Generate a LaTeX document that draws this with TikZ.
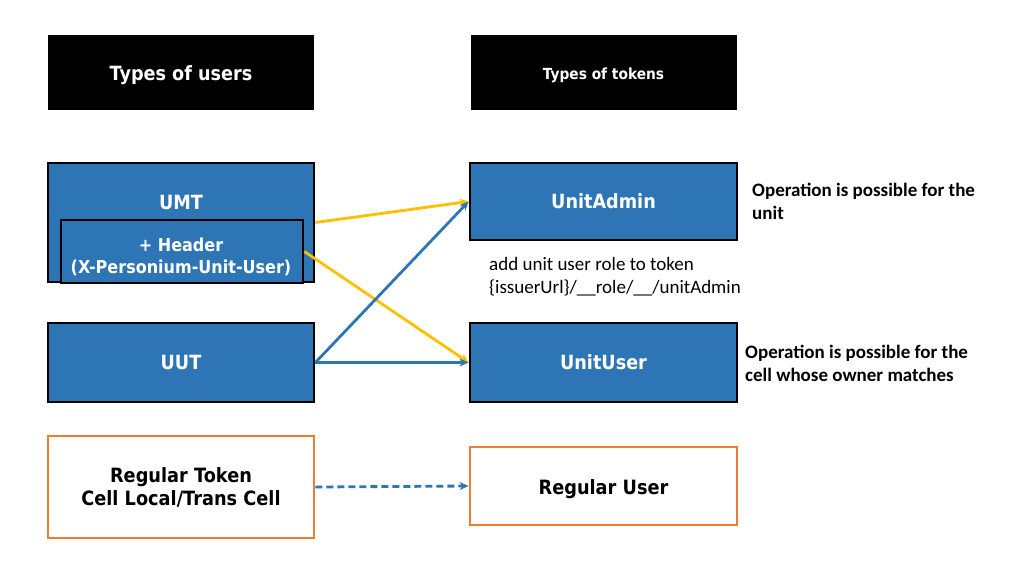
\documentclass[tikz,border=0pt]{standalone}
\usepackage{fontspec}
\setmainfont{DejaVu Sans}[FakeStretch=0.9]
\newfontfamily\carlito{Carlito}
\usetikzlibrary{arrows.meta}
\definecolor{boxblue}{HTML}{2E75B6}
\definecolor{arrowyellow}{HTML}{FFC000}
\definecolor{boxorange}{HTML}{ED7D31}
\begin{document}
\begin{tikzpicture}[x=1pt,y=-1pt,
  hdr/.style={draw=none,fill=black,text=white,minimum width=266pt,minimum height=75pt,inner sep=0pt},
  bluebox/.style={draw=black,line width=2.8pt,fill=boxblue,inner sep=0pt},
  orangebox/.style={draw=boxorange,line width=2.8pt,fill=white,text=black,inner sep=0pt,align=center},
  wtxt/.style={text=white,font=\bfseries\fontsize{19.6}{22}\selectfont,align=center},
  note/.style={font=\carlito\bfseries\fontsize{19}{23}\selectfont,align=left,anchor=north west,inner sep=0pt},
  yarrow/.style={draw=arrowyellow,line width=2.8pt,-{Stealth[length=9pt,width=8pt]}},
  barrow/.style={draw=boxblue,line width=2.8pt,-{Stealth[length=9pt,width=8pt]}}
]
\useasboundingbox (0,0) rectangle (1024,576);
\fill[white] (0,0) rectangle (1024,576);
% headers
\node[hdr,font=\bfseries\fontsize{19.6}{20}\selectfont,text depth=0pt] (husers) at (181,72.5) {\raisebox{-2pt}{Types of users}};
\node[hdr,font=\bfseries\fontsize{15.3}{16}\selectfont,text depth=0pt] (htokens) at (603.5,72.5) {\raisebox{-2pt}{Types of tokens}};
% left boxes
\node[bluebox,minimum width=266pt,minimum height=119pt] (umt) at (181,222.5) {};
\node[wtxt] (umttxt) at (181,202) {UMT};
\node[bluebox,minimum width=242pt,minimum height=63pt] (hdrbox) at (182,251.5) {};
\node[wtxt,font=\bfseries\fontsize{17.8}{22}\selectfont] (hdrtxt) at (181,257) {+ Header\\(X-Personium-Unit-User)};
\node[bluebox,minimum width=266pt,minimum height=79pt,wtxt] (uut) at (181,362.5) {UUT};
\node[orangebox,minimum width=266pt,minimum height=102pt,font=\bfseries\fontsize{19.7}{23}\selectfont] (reg) at (181,487) {Regular Token\\Cell Local/Trans Cell};
% right boxes
\node[bluebox,minimum width=267pt,minimum height=77pt,wtxt] (ua) at (603.5,201.5) {UnitAdmin};
\node[bluebox,minimum width=267pt,minimum height=79pt,wtxt] (uu) at (603.5,362.5) {UnitUser};
\node[orangebox,minimum width=267pt,minimum height=78pt,font=\bfseries\fontsize{19.7}{22}\selectfont,text depth=0pt] (ru) at (603.5,486) {\raisebox{-2pt}{Regular User}};
% notes
\node[note] (n1) at (752,183) {Operation is possible for the\\unit};
\node[note] (n2) at (745,345) {Operation is possible for the\\cell whose owner matches};
\node[note,font=\carlito\fontsize{19}{23}\selectfont] (n3) at (489,257) {add unit user role to token\\\{issuerUrl\}/\_\_role/\_\_/unitAdmin};
% arrows
\draw[yarrow] (umt.east) -- (ua.west);
\draw[yarrow] (hdrbox.east) -- (uu.west);
\draw[barrow] (uut.east) -- (ua.west);
\draw[barrow] (uut.east) -- (uu.west);
\draw[barrow,dashed,dash pattern=on 7pt off 4pt] (reg.east) -- (ru.west);
\end{tikzpicture}
\end{document}
